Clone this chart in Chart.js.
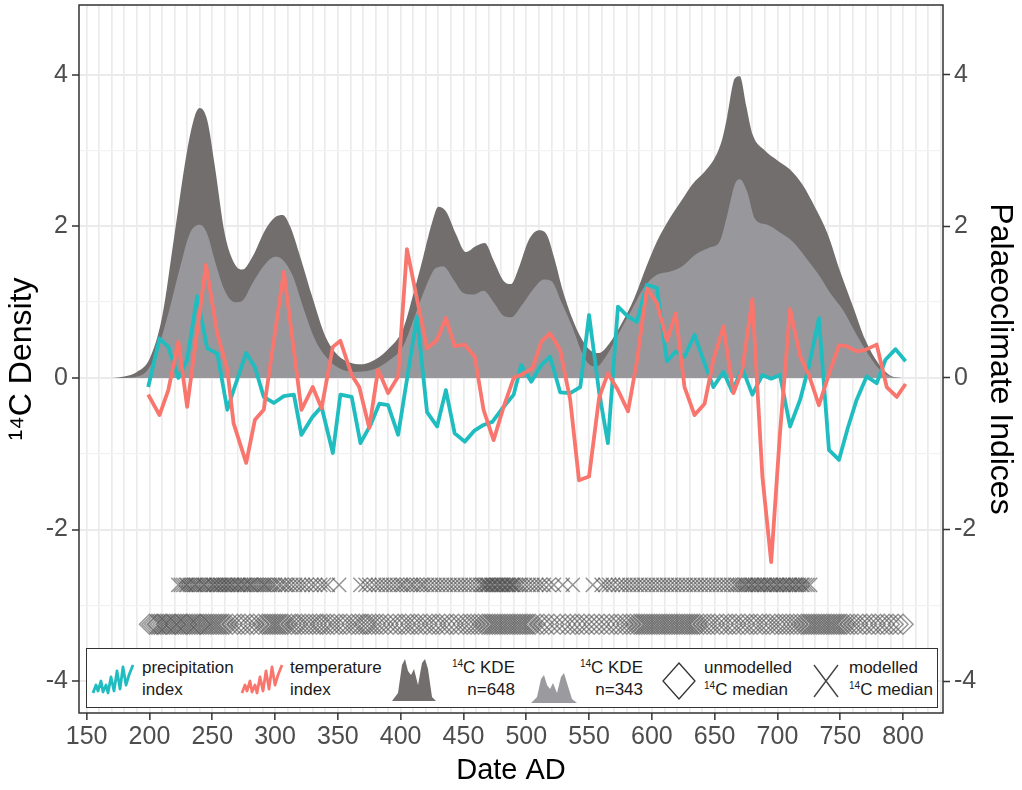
<!DOCTYPE html>
<html>
<head>
<meta charset="utf-8">
<script src="https://cdn.jsdelivr.net/npm/chart.js@4.4.1/dist/chart.umd.min.js"></script>
<style>
body { margin: 0; background: #fff; font-family: "Liberation Sans", Arial, Helvetica, sans-serif; }
#wrap { position: relative; width: 1022px; height: 790px; }
#legend { position: absolute; left: 86px; top: 648px; width: 852px; height: 60px; box-sizing: border-box;
          border: 1.5px solid #333; background: #fff; }
#legend svg { position: absolute; overflow: visible; }
.lt { position: absolute; font-size: 17px; line-height: 22px; color: #1a1a1a; white-space: nowrap; top: 8px; }
.lt sup { font-size: 10px; vertical-align: 6px; line-height: 0; }
.r { text-align: right; width: 88px; }
</style>
</head>
<body>
<div id="wrap">
  <canvas id="chart" width="1022" height="790"></canvas>
  <div id="legend">
    <svg style="left:5px;top:14px" width="42" height="34"><polyline points="1,30 4,22 6,28 9,18 11,29 14,22 16,30 19,14 22,28 25,8 28,26 31,4 34,22 37,12 41,2" fill="none" stroke="#1fbcc0" stroke-width="2.8" stroke-linejoin="round"/></svg>
    <div class="lt" style="left:55px">precipitation<br>index</div>
    <svg style="left:154px;top:14px" width="42" height="34"><polyline points="1,30 4,22 6,28 9,18 11,29 14,22 16,30 19,14 22,28 25,8 28,26 31,4 34,22 37,12 41,2" fill="none" stroke="#f8766d" stroke-width="2.8" stroke-linejoin="round"/></svg>
    <div class="lt" style="left:203px">temperature<br>index</div>
    <svg style="left:305px;top:8px" width="44" height="44"><polygon points="0,44 6,36 10,8 13,2 16,14 19,18 22,12 26,28 30,6 33,2 36,12 40,40 44,44" fill="rgb(115,110,110)"/></svg>
    <div class="lt r" style="left:340px"><sup>14</sup>C KDE<br>n=648</div>
    <svg style="left:444px;top:18px" width="46" height="36"><polygon points="0,36 6,30 10,12 13,8 16,18 19,22 22,16 26,26 30,10 33,6 36,16 41,32 46,36" fill="rgb(155,155,159)"/></svg>
    <div class="lt r" style="left:468px"><sup>14</sup>C KDE<br>n=343</div>
    <svg style="left:575px;top:13px" width="34" height="38"><polygon points="17,1 33,19 17,37 1,19" fill="none" stroke="#333" stroke-width="1.3"/></svg>
    <div class="lt" style="left:617px">unmodelled<br><sup>14</sup>C median</div>
    <svg style="left:726px;top:15px" width="26" height="34"><path d="M1,1 L25,33 M25,1 L1,33" stroke="#444" stroke-width="1.4"/></svg>
    <div class="lt" style="left:762px">modelled<br><sup>14</sup>C median</div>
  </div>
</div>
<script>
// 14C KDE, all dates (n=648)
const darkYears = [170,180,190,200,210,220,230,236,240,246,252,260,268,274,282,292,300,306,312,320,330,340,350,360,368,376,390,402,410,418,425,430,436,444,452,460,467,474,482,488,494,502,510,516,522,530,540,550,558,566,576,586,594,604,614,624,632,642,650,656,660,666,670,675,680,690,700,710,720,730,740,750,760,770,780,790,800];
const darkKde = [0,0.02,0.08,0.25,0.8,1.9,3.0,3.45,3.56,3.4,2.8,1.9,1.5,1.43,1.6,1.95,2.12,2.15,2.0,1.6,1.05,0.55,0.3,0.2,0.18,0.21,0.38,0.65,1.1,1.6,2.05,2.26,2.2,1.9,1.66,1.74,1.78,1.55,1.28,1.24,1.45,1.82,1.95,1.9,1.6,1.1,0.65,0.38,0.33,0.45,0.72,1.05,1.4,1.8,2.1,2.35,2.55,2.72,2.9,3.15,3.45,3.95,3.98,3.6,3.22,3.0,2.87,2.75,2.55,2.25,1.9,1.4,0.95,0.5,0.2,0.03,0];

// 14C KDE, subset (n=343)
const lightYears = [180,195,205,215,225,232,240,246,252,260,268,274,282,292,300,306,314,322,332,342,352,362,376,390,402,412,420,428,434,442,450,458,466,474,482,488,496,506,514,520,528,536,544,550,556,564,574,584,594,604,614,624,634,646,654,660,666,670,676,682,692,702,712,722,732,742,752,762,772,782,792,800];
const lightKde = [0,0.05,0.3,0.85,1.5,1.9,2.02,1.9,1.55,1.15,1.0,1.02,1.25,1.5,1.6,1.56,1.35,0.95,0.5,0.25,0.12,0.08,0.1,0.22,0.42,0.85,1.2,1.45,1.47,1.3,1.12,1.1,1.15,1.0,0.82,0.8,0.95,1.18,1.3,1.28,1.0,0.7,0.35,0.18,0.15,0.3,0.6,0.9,1.2,1.36,1.4,1.47,1.62,1.72,1.8,2.15,2.55,2.62,2.45,2.1,2.02,1.92,1.8,1.6,1.38,1.12,0.9,0.6,0.32,0.1,0.01,0];

// palaeoclimate indices
const precipYears = [199,208,215,223,230,238,246,254,262,267,277,284,291,299,307,315,321,330,337,346,352,361,368,376,383,390,398,413,421,429,436,443,451,459,466,473,482,490,496,504,512,519,527,535,543,550,558,565,573,581,588,596,604,612,619,626,634,642,649,657,664,672,680,688,695,702,710,718,725,733,741,749,756,763,771,779,786,794,802];
const precipValues = [-0.12,0.52,0.41,0.0,0.24,1.08,0.39,0.32,-0.42,-0.16,0.33,0.14,-0.25,-0.33,-0.24,-0.22,-0.75,-0.51,-0.38,-0.99,-0.22,-0.25,-0.86,-0.62,-0.34,-0.36,-0.75,0.81,-0.45,-0.64,-0.16,-0.73,-0.84,-0.69,-0.62,-0.58,-0.38,-0.22,0.17,-0.05,0.17,0.28,-0.19,-0.2,-0.12,0.83,-0.19,-0.86,0.94,0.81,0.74,1.23,1.19,0.22,0.35,0.28,0.57,0.19,-0.12,0.08,-0.18,0.13,-0.22,0.04,-0.01,0.04,-0.64,-0.29,0.15,0.79,-0.95,-1.08,-0.66,-0.29,0.02,-0.07,0.24,0.38,0.22];
const tempYears = [199,208,215,223,230,245,254,262,267,277,284,291,307,321,330,337,346,352,361,367,375,382,390,398,405,414,421,429,436,443,451,459,466,474,482,490,498,505,512,519,527,535,542,550,558,565,573,581,588,596,604,612,619,626,634,642,649,657,665,672,680,688,695,702,710,718,725,733,741,749,755,763,770,779,787,795,802];
const tempValues = [-0.22,-0.49,-0.16,0.48,-0.38,1.49,0.59,0.11,-0.6,-1.12,-0.55,-0.42,1.4,-0.42,-0.12,-0.4,0.41,0.49,0.04,-0.12,-0.66,0.11,-0.2,0.02,1.7,0.96,0.39,0.5,0.79,0.42,0.44,0.28,-0.42,-0.82,-0.38,0.0,0.06,0.13,0.48,0.59,0.37,-0.29,-1.35,-1.3,-0.26,0.06,-0.16,-0.44,0.21,1.18,0.99,0.49,0.85,-0.12,-0.49,-0.34,0.24,0.68,-0.2,0.11,1.04,-1.3,-2.43,-0.73,0.91,0.29,0.04,-0.36,0.05,0.43,0.42,0.35,0.37,0.44,-0.12,-0.25,-0.08];

// 14C medians
const modelledYears = [223,225,227,229,230,232,234,236,237,239,241,243,244,246,248,250,251,253,254,256,257,259,260,262,263,265,266,268,270,271,273,275,276,278,280,281,283,285,287,289,291,292,294,296,298,300,303,305,308,310,313,316,319,322,325,329,332,336,339,342,351,
  368,372,375,379,382,385,388,391,394,397,400,402,405,408,410,413,416,418,421,424,427,430,433,436,439,442,445,448,451,454,457,460,463,465,466,468,469,470,472,473,474,476,477,478,480,481,482,484,485,486,488,489,490,492,494,496,499,502,505,508,511,514,518,
  522,529,537,553,
  560,563,566,569,573,576,579,582,585,588,591,594,597,600,603,606,609,612,615,618,621,624,627,630,633,636,639,642,645,648,651,654,657,660,663,666,668,670,672,674,675,677,679,680,682,684,685,687,689,690,692,694,695,697,699,700,702,704,705,707,709,710,712,714,715,717,719,720,722,724,726];
const unmodelledYears = [200,202,204,206,207,209,211,213,214,216,218,220,221,223,225,227,229,230,232,234,236,238,240,241,243,245,247,249,251,253,255,257,259,261,263,266,270,273,276,280,283,287,290,292,294,296,298,300,302,304,306,308,310,313,316,318,321,324,327,330,333,336,338,341,344,347,351,354,357,361,364,367,370,372,374,377,380,383,386,390,394,398,401,404,408,411,414,418,421,425,428,431,435,439,442,446,450,453,456,459,462,465,467,469,471,473,475,477,479,481,483,485,487,489,491,493,495,497,499,501,503,505,507,511,514,518,522,527,531,535,539,542,546,550,554,558,562,566,570,573,577,580,583,586,588,590,592,594,596,598,600,602,604,606,608,610,612,614,616,618,620,622,624,626,628,630,632,634,636,638,641,644,647,650,654,657,661,664,667,671,674,678,681,684,688,691,694,698,701,704,707,710,713,716,719,721,723,725,727,729,731,733,735,737,739,741,743,745,747,749,751,753,755,758,761,764,768,771,775,778,782,785,789,792,796,800];
const modelledRow = -2.73;
const unmodelledRow = -3.25;

const yTicks = [-4, -3, -2, -1, 0, 1, 2, 3, 4];
const xGrid = [];
for (let v = 150; v <= 830; v += 10) xGrid.push(v);

const pairs = (xs, ys) => xs.map((x, i) => ({ x: x, y: ys[i] }));
const row = (xs, y) => xs.map(x => ({ x: x, y: y }));

const panelBorder = {
    id: "panelBorder",
    afterDraw(chart) {
        const { ctx, chartArea: a } = chart;
        ctx.save();
        ctx.strokeStyle = "#333";
        ctx.lineWidth = 1.5;
        ctx.strokeRect(a.left, a.top, a.right - a.left, a.bottom - a.top);
        ctx.restore();
    }
};

const tickFont = { family: "'Liberation Sans', Arial, sans-serif", size: 25 };
const evenOnly = v => (Math.abs(v % 2) < 1e-9 ? String(v) : "");

// fixed axis sizes so the panel sits where it does in the original
function fitY(s) { s.width = 79; s.paddingTop = 0; s.paddingBottom = 0; }
function fitX(s) { s.height = 77; s.paddingLeft = 0; s.paddingRight = 0; }

new Chart(document.getElementById("chart"), {
    type: "line",
    data: {
        datasets: [
            {
                label: "14C KDE n=648",
                data: pairs(darkYears, darkKde),
                fill: "origin",
                backgroundColor: "rgb(115,110,110)",
                borderWidth: 0,
                pointRadius: 0,
                cubicInterpolationMode: "monotone",
                yAxisID: "y",
                order: 6
            },
            {
                label: "14C KDE n=343",
                data: pairs(lightYears, lightKde),
                fill: "origin",
                backgroundColor: "rgb(152,152,156)",
                borderWidth: 0,
                pointRadius: 0,
                cubicInterpolationMode: "monotone",
                yAxisID: "y",
                order: 5
            },
            {
                label: "unmodelled 14C median",
                data: row(unmodelledYears, unmodelledRow),
                showLine: false,
                pointStyle: "rectRot",
                pointRadius: 10,
                pointBorderWidth: 1.5,
                pointBorderColor: "rgba(80,80,80,0.6)",
                pointBackgroundColor: "rgba(0,0,0,0)",
                yAxisID: "y",
                order: 4
            },
            {
                label: "modelled 14C median",
                data: row(modelledYears, modelledRow),
                showLine: false,
                pointStyle: "crossRot",
                pointRadius: 10,
                pointBorderWidth: 1.5,
                pointBorderColor: "rgba(75,75,75,0.6)",
                yAxisID: "y",
                order: 3
            },
            {
                label: "precipitation index",
                data: pairs(precipYears, precipValues),
                borderColor: "#1fbcc0",
                borderWidth: 3.8,
                borderJoinStyle: "round",
                pointRadius: 0,
                tension: 0,
                fill: false,
                yAxisID: "y2",
                order: 2
            },
            {
                label: "temperature index",
                data: pairs(tempYears, tempValues),
                borderColor: "#f8766d",
                borderWidth: 3.8,
                borderJoinStyle: "round",
                pointRadius: 0,
                tension: 0,
                fill: false,
                yAxisID: "y2",
                order: 1
            }
        ]
    },
    options: {
        responsive: false,
        animation: false,
        events: [],
        layout: { autoPadding: false, padding: { top: 5 } },
        plugins: { legend: { display: false }, tooltip: { enabled: false } },
        scales: {
            x: {
                type: "linear",
                min: 143.9,
                max: 831.8,
                afterFit: fitX,
                afterBuildTicks: s => { s.ticks = xGrid.map(v => ({ value: v })); },
                border: { display: false },
                grid: {
                    color: "#ebebeb",
                    lineWidth: 1.7,
                    tickLength: 7,
                    tickWidth: 1.5,
                    tickColor: c => (c.tick && c.tick.value % 50 === 0 && c.tick.value <= 800 ? "#333" : "rgba(0,0,0,0)")
                },
                ticks: {
                    autoSkip: false,
                    maxRotation: 0,
                    padding: 2,
                    color: "#4d4d4d",
                    font: tickFont,
                    callback: v => (v % 50 === 0 && v <= 800 ? String(v) : "")
                },
                title: { display: true, text: "Date AD", color: "#000", font: { family: "'Liberation Sans', Arial, sans-serif", size: 29 }, padding: { top: 0, bottom: 2 } }
            },
            y: {
                position: "left",
                min: -4.42,
                max: 4.92,
                afterFit: fitY,
                afterBuildTicks: s => { s.ticks = yTicks.map(v => ({ value: v })); },
                border: { display: false },
                grid: {
                    color: c => (c.tick && c.tick.value % 2 === 0 ? "#ebebeb" : "#f2f2f2"),
                    lineWidth: c => (c.tick && c.tick.value % 2 === 0 ? 2 : 1.3),
                    tickLength: 7,
                    tickWidth: 1.5,
                    tickColor: c => (c.tick && c.tick.value % 2 === 0 ? "#333" : "rgba(0,0,0,0)")
                },
                ticks: { padding: 4, color: "#4d4d4d", font: tickFont, callback: evenOnly },
                title: { display: true, text: "\u00b9\u2074C Density", color: "#000", font: { family: "'Liberation Sans', Arial, sans-serif", size: 32 }, padding: { top: 3, bottom: 0 } }
            },
            y2: {
                position: "right",
                min: -4.42,
                max: 4.92,
                afterFit: fitY,
                afterBuildTicks: s => { s.ticks = yTicks.map(v => ({ value: v })); },
                border: { display: false },
                grid: {
                    drawOnChartArea: false,
                    tickLength: 7,
                    tickWidth: 1.5,
                    tickColor: c => (c.tick && c.tick.value % 2 === 0 ? "#333" : "rgba(0,0,0,0)")
                },
                ticks: { padding: 4, color: "#4d4d4d", font: tickFont, callback: evenOnly },
                title: { display: true, text: "Palaeoclimate Indices", color: "#000", font: { family: "'Liberation Sans', Arial, sans-serif", size: 32 }, padding: { top: 3, bottom: 0 } }
            }
        }
    },
    plugins: [panelBorder]
});
</script>
</body>
</html>
